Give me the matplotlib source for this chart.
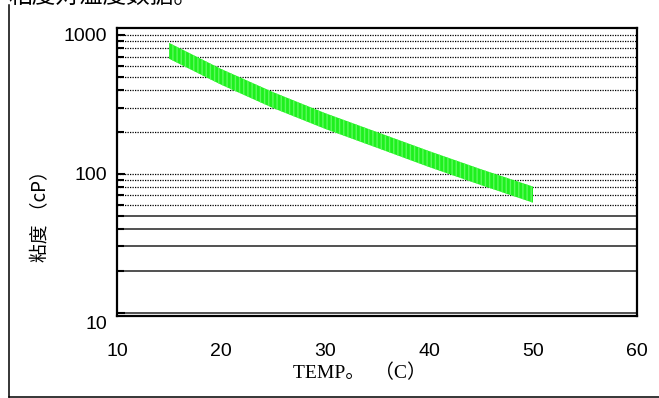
import matplotlib
matplotlib.use("Agg")
import matplotlib.pyplot as plt
from matplotlib.lines import Line2D
from matplotlib.transforms import ScaledTranslation

# band (viscosity in cP vs temperature in C)
temp = [15, 20, 25, 30, 35, 40, 45, 50]
visc_upper = [878, 570, 388, 274, 200, 146, 108, 81]
visc_lower = [675, 439, 298, 211, 154, 112, 83, 62]

x_ticks = [10, 20, 30, 40, 50, 60]
y_ticks = [10, 100, 1000]
y_tick_labels = ["10", "100", "1000"]
dotted_levels = [60, 70, 80, 90, 100, 200, 300, 400, 500, 600, 700, 800, 900, 1000]
solid_levels = [10, 20, 30, 40, 50]

cjk = ["Noto Sans CJK SC", "DejaVu Sans"]
plt.rcParams["font.family"] = ["Liberation Sans", "Noto Sans CJK SC"]

fig = plt.figure(figsize=(6.59, 3.98), dpi=100)
ax = fig.add_axes([117 / 659, 1 - 315.5 / 398, 520 / 659, 287.5 / 398])

ax.set_yscale("log")
ax.set_xlim(10, 60)
ax.set_ylim(9.55, 1123)

for v in dotted_levels:
    ax.axhline(v, color="black", lw=0.9, ls=(0, (1, 1)), zorder=1)
for v in solid_levels:
    ax.axhline(v, color="#222222", lw=1.1, zorder=1)

ax.fill_between(temp, visc_lower, visc_upper, facecolor="#1ef01e",
                edgecolor="#5cfa5c", hatch="||||", linewidth=0, zorder=3)

ax.set_xticks(x_ticks)
ax.set_xticklabels([str(t) for t in x_ticks])
ax.set_yticks(y_ticks)
ax.set_yticklabels(y_tick_labels)
ax.set_yticks(dotted_levels[:4] + dotted_levels[5:13] + solid_levels[1:], minor=True)
ax.yaxis.set_minor_formatter(plt.NullFormatter())

ax.tick_params(axis="x", length=0, pad=20, labelsize=14)
ax.tick_params(axis="y", which="major", direction="in", length=6, width=1.5,
               pad=7, labelsize=14)
ax.tick_params(axis="y", which="minor", direction="in", length=5, width=1.5)

for s in ax.spines.values():
    s.set_linewidth(1.6)

# the "10" label sits a bit lower than its line in the original
lab10 = ax.get_yticklabels()[0]
lab10.set_transform(lab10.get_transform() + ScaledTranslation(0, -10 / 100, fig.dpi_scale_trans))

fig.text(8 / 659, 1 + 3.5 / 398, "粘度对温度数据。", fontsize=17, family=cjk,
         ha="left", va="center")
fig.text(41 / 659, 1 - 212 / 398, "粘度 （cP）", fontsize=13.5, family=cjk,
         rotation=90, ha="center", va="center")
fig.text(360 / 659, 1 - 373 / 398, "TEMP。  （C）", fontsize=14,
         family=["Liberation Serif", "Noto Sans CJK SC"], ha="center", va="center")

# outer L-shaped frame
fig.add_artist(Line2D([9 / 659, 9 / 659], [1 - 5 / 398, 1 - 397 / 398],
                      transform=fig.transFigure, color="black", lw=1.1))
fig.add_artist(Line2D([9 / 659, 1], [1 - 397 / 398, 1 - 397 / 398],
                      transform=fig.transFigure, color="black", lw=1.1))

fig.savefig("out.png", dpi=100)
